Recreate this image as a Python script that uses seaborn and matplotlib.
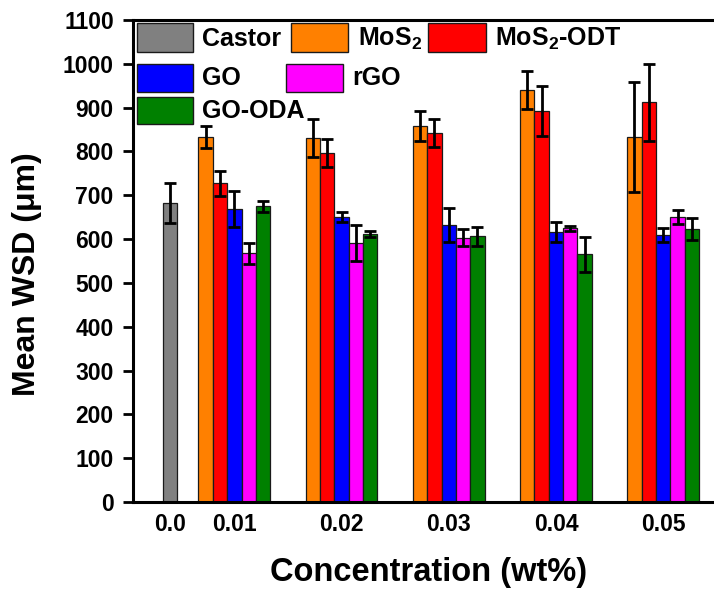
import numpy as np
import matplotlib
matplotlib.use("Agg")
import matplotlib.pyplot as plt
from matplotlib.patches import Rectangle
import seaborn as sns

# ---- data: mean wear scar diameter (um) and error ----
conc_labels = ["0.0", "0.01", "0.02", "0.03", "0.04", "0.05"]

castor_mean = [683]
castor_err = [46]

mos2_mean = [833, 831, 859, 940, 833]
mos2_err = [24, 43, 34, 43, 126]

mos2_odt_mean = [727, 797, 842, 892, 912]
mos2_odt_err = [28, 32, 32, 57, 88]

go_mean = [668, 650, 632, 616, 609]
go_err = [41, 12, 39, 23, 16]

rgo_mean = [568, 592, 603, 625, 650]
rgo_err = [24, 41, 19, 6, 16]

go_oda_mean = [675, 612, 606, 565, 623]
go_oda_err = [13, 7, 22, 40, 25]

series = [
    ("MoS$_\\mathbf{2}$", mos2_mean, mos2_err, "#FF8000"),
    ("MoS$_\\mathbf{2}$-ODT", mos2_odt_mean, mos2_odt_err, "#FF0000"),
    ("GO", go_mean, go_err, "#0000FF"),
    ("rGO", rgo_mean, rgo_err, "#FF00FF"),
    ("GO-ODA", go_oda_mean, go_oda_err, "#008000"),
]
castor_color = "#808080"

# ---- style ----
sns.set_theme(style="ticks")
plt.rcParams["font.family"] = ["Liberation Sans", "DejaVu Sans"]
plt.rcParams["font.weight"] = "bold"
plt.rcParams["mathtext.fontset"] = "custom"
plt.rcParams["mathtext.rm"] = "Liberation Sans:bold"
plt.rcParams["mathtext.bf"] = "Liberation Sans:bold"
plt.rcParams["mathtext.it"] = "Liberation Sans:bold"

W, H = 714, 591
fig = plt.figure(figsize=(W / 100, H / 100), dpi=100)
fig.patch.set_facecolor("white")

# axes frame in pixel units
L, R, T, B = 132.5, 714, 20, 502
ax = fig.add_axes([L / W, 1 - B / H, (R - L) / W, (B - T) / H])
ax.set_facecolor("white")

bar_w = 0.134
group_pos = np.arange(1, 6)
castor_pos = [0.4]
edge = dict(edgecolor="#1a1a1a", linewidth=0.9)
err_kw = dict(fmt="none", ecolor="black", elinewidth=2.0, capsize=4.3,
              capthick=2.0, zorder=4)

# castor oil reference bar
sns.barplot(x=castor_pos, y=castor_mean, native_scale=True, orient="x",
            width=bar_w, color=castor_color, saturation=1, errorbar=None,
            ax=ax, **edge)
ax.errorbar(castor_pos, castor_mean, yerr=castor_err, **err_kw)

# additive series, dodged around each concentration
for k, (name, mean, err, col) in enumerate(series):
    xs = group_pos + (k - 2) * bar_w
    sns.barplot(x=xs, y=mean, native_scale=True, orient="x", width=bar_w,
                color=col, saturation=1, errorbar=None, ax=ax, **edge)
    ax.errorbar(xs, mean, yerr=err, **err_kw)

# ---- axes ----
ax.set_xlim(0.05, 0.05 + (R - L) / 107.2)
ax.set_ylim(0, 1100)
ax.set_yticks(np.arange(0, 1101, 100))
ax.set_xticks(np.concatenate([castor_pos, group_pos]))
ax.set_xticklabels(conc_labels)

for s in ["left", "bottom", "top"]:
    ax.spines[s].set_linewidth(2.2)
    ax.spines[s].set_color("black")
ax.spines["right"].set_visible(False)

ax.tick_params(axis="y", length=7, width=2, pad=6.5, labelsize=16.5,
               direction="out", color="black", labelcolor="black")
ax.tick_params(axis="x", length=0, pad=8, labelsize=16.5, labelcolor="black")
for lab in ax.get_xticklabels() + ax.get_yticklabels():
    lab.set_fontweight("bold")

ax.set_ylabel("Mean WSD (μm)", fontsize=23, fontweight="bold", color="black")
ax.yaxis.set_label_coords((27 - L) / (R - L), (B - 274) / (B - T))
ax.yaxis.label.set_va("center")

ax.set_xlabel("Concentration (wt%)", fontsize=23.5, fontweight="bold",
              color="black")
ax.xaxis.set_label_coords((429 - L) / (R - L), (B - 572) / (B - T))
ax.xaxis.label.set_va("center")

# ---- legend (three rows, free placement) ----
legend_entries = [
    ("Castor", castor_color, 137, 23, 56, 29, 202, 45.5),
    (series[0][0], series[0][3], 291, 23, 57, 29, 358, 45.5),
    (series[1][0], series[1][3], 428, 23, 58, 29, 495, 45.5),
    (series[2][0], series[2][3], 137, 64, 56, 28, 202, 85),
    (series[3][0], series[3][3], 286, 64, 57, 28, 352, 85),
    (series[4][0], series[4][3], 137, 97, 56, 27, 202, 118),
]
for label, col, px, py, pw, ph, tx, tb in legend_entries:
    fig.add_artist(Rectangle((px / W, 1 - (py + ph) / H), pw / W, ph / H,
                             transform=fig.transFigure, facecolor=col,
                             edgecolor="#1a1a1a", linewidth=1.0))
    fig.text(tx / W, 1 - tb / H, label, fontsize=18, fontweight="bold",
             ha="left", va="baseline", color="black")

fig.savefig("out.png", dpi=100, facecolor="white")
